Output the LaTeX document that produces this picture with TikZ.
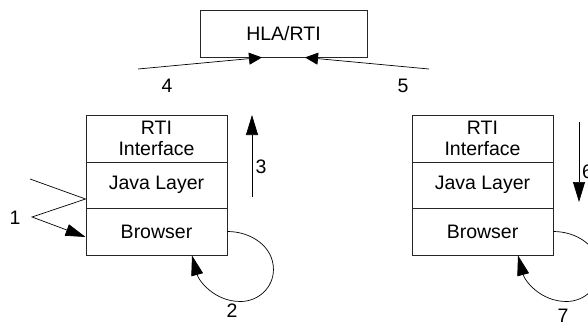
\documentclass[tikz,border=0pt]{standalone}
\usepackage{fontspec}
\setmainfont{Liberation Sans}
\usetikzlibrary{arrows.meta,calc}
\begin{document}
\begin{tikzpicture}[x=1pt,y=-1pt,
  line width=0.7pt,
  every node/.style={font=\fontsize{19.5}{22}\selectfont},
  layer/.style={draw=black!85, line width=0.9pt, minimum width=141pt, inner sep=0pt, align=center},
  lbl/.style={inner sep=0pt},
  tip/.style={-{Triangle[length=20pt,width=12pt]}},
  shorttip/.style={-{Triangle[length=13pt,width=12pt]}}]
\useasboundingbox (0,0) rectangle (588,329);

% central federation box
\node[draw=black!85, line width=0.9pt, minimum width=167pt, minimum height=47pt, inner sep=0pt] (hla) at (283.5,33.5) {HLA/RTI};

% left federate stack
\node[layer, minimum height=47pt] (rtiL) at (156.5,138.5) {RTI\\[-1pt]Interface};
\node[layer, minimum height=46pt] (javaL) at (156.5,185) {Java Layer};
\node[layer, minimum height=47pt] (browL) at (156.5,231.5) {Browser};

% right federate stack
\node[layer, minimum height=47pt] (rtiR) at (482.5,138.5) {RTI\\[-1pt]Interface};
\node[layer, minimum height=46pt] (javaR) at (482.5,185) {Java Layer};
\node[layer, minimum height=47pt] (browR) at (482.5,231.5) {Browser};

% free ends of the connectors
\coordinate (s4) at (138,69);
\coordinate (s5) at (429,69);
\coordinate (s3) at (252,197);
\coordinate (e3) at (252,115);
\coordinate (s6) at (579,122);
\coordinate (e6) at (579,202);
\coordinate (s1) at (30,179);
\coordinate (v1) at (32,217);

% step labels
\node[lbl] (n1) at (15,218) {1};
\node[lbl] (n2) at (232,311) {2};
\node[lbl] (n3) at (261,167) {3};
\node[lbl] (n4) at (167,86) {4};
\node[lbl] (n5) at (403,86) {5};
\node[lbl] (n6) at (587.5,172) {6};
\node[lbl] (n7) at (563,316) {7};

% connectors
\draw[shorttip] (s4) -- ($(hla.south)+(-21.5,0)$);
\draw[shorttip] (s5) -- ($(hla.south)+(21.5,0)$);
\draw[tip] (s3) -- (e3);
\draw[tip] (s6) -- (e6);
\draw[tip] (s1) -- (javaL.west |- 0,199) -- (v1) -- (browL.west |- 0,237);
\draw[tip] (browL.east) to[out=0,in=90] ($(browL.east)+(46,38)$)
  to[out=-90,in=0] ($(browL.east)+(13,70)$)
  to[out=180,in=-75] ($(browL.south)+(35.5,0)$);
\draw[tip] (browR.east) to[out=0,in=90] ($(browR.east)+(46,38)$)
  to[out=-90,in=0] ($(browR.east)+(13,70)$)
  to[out=180,in=-75] ($(browR.south)+(35.5,0)$);
\end{tikzpicture}
\end{document}
